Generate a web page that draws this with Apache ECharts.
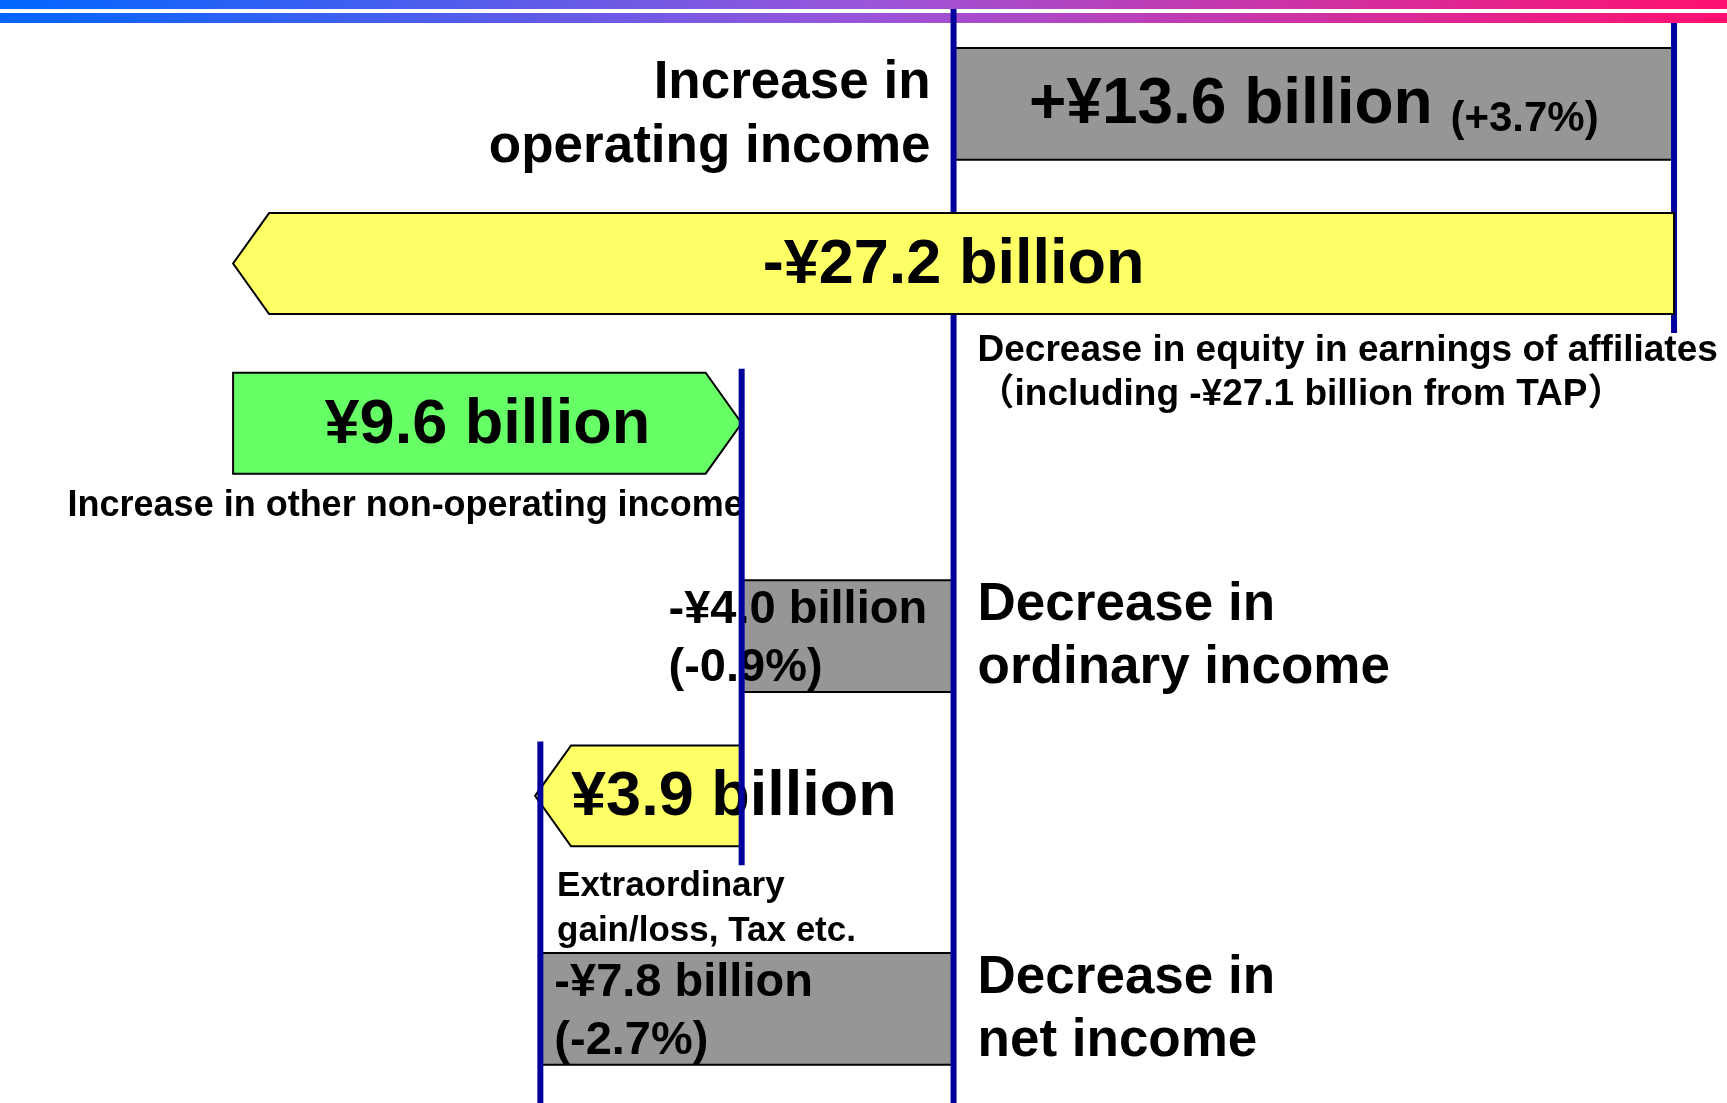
<!DOCTYPE html>
<html>
<head>
<meta charset="utf-8">
<title>Operating / ordinary / net income bridge</title>
<script src="https://cdn.jsdelivr.net/npm/echarts@6/dist/echarts.min.js"></script>
<style>
  html, body { margin: 0; padding: 0; background: #fff; }
  #chart { width: 1727px; height: 1103px; }
</style>
</head>
<body>
<div id="chart"></div>
<script>
  // 項目（上から順）
  const categories = [
    'Increase in operating income',
    'Decrease in equity in earnings of affiliates',
    'Increase in other non-operating income',
    'Decrease in ordinary income',
    'Extraordinary gain/loss, Tax etc.',
    'Decrease in net income'
  ]
  // 増減額（十億円）
  const changes = [13.6, -27.2, 9.6, -4.0, -3.9, -7.8]
  // total: 基準線から描く / step: 前の段の終点から描く
  const kinds = ['total', 'step', 'step', 'total', 'step', 'total']
  const valueLabels = ['+¥13.6 billion', '-¥27.2 billion', '¥9.6 billion', '-¥4.0 billion', '¥3.9 billion', '-¥7.8 billion']
  const pctLabels = ['(+3.7%)', '', '', '(-0.9%)', '', '(-2.7%)']
  const nameLabels = [
    'Increase in\noperating income',
    'Decrease in equity in earnings of affiliates\n（including -¥27.1 billion from TAP）',
    'Increase in other non-operating income',
    'Decrease in\nordinary income',
    'Extraordinary\ngain/loss, Tax etc.',
    'Decrease in\nnet income'
  ]

  // 項目名の置き場所（見た目の設定）
  const namePos = ['leftOfBase', 'belowBase', 'belowEndRight', 'rightOfBase', 'belowEndLeft', 'rightOfBase']

  const FONT = "'Liberation Sans', Arial, Helvetica, 'Noto Sans CJK JP', sans-serif"

  // 段の縦位置：下に項目名がある段のあとは少し間を空ける
  const rowSlot = []
  categories.forEach((c, i) => {
    rowSlot.push(i === 0 ? 0 : rowSlot[i - 1] + 1 + (namePos[i - 1].indexOf('belowEnd') === 0 ? 1 / 3 : 0))
  })

  // [start, end, slot, row]
  const ranges = []
  let run = 0
  changes.forEach((c, i) => {
    const start = kinds[i] === 'total' ? 0 : run
    const end = +(start + c).toFixed(1)
    ranges.push([start, end, rowSlot[i], i])
    run = end
  })

  // 縦の区切り線 [値, 開始slot, 終了slot, 開始段, 終了段]
  const link = (v, a, b) => [v, rowSlot[a], rowSlot[b], a, b]
  const connectors = [
    link(0, 0, 5),
    link(ranges[0][1], 0, 1),
    link(ranges[2][1], 2, 4),
    link(ranges[5][1], 4, 5)
  ]

  // 基準線をまたぐ矢印は線の上に描く
  const crossesBase = r => kinds[r[3]] === 'step' && Math.min(r[0], r[1]) < 0 && Math.max(r[0], r[1]) > 0
  const underRanges = ranges.filter(r => !crossesBase(r))
  const overRanges = ranges.filter(crossesBase)

  const measure = document.createElement('canvas').getContext('2d')
  function textWidth(str, size) {
    measure.font = 'bold ' + size + 'px ' + FONT
    return Math.max(...str.split('\n').map(s => measure.measureText(s).width))
  }

  function txt(text, x, y, size, align, vAlign, lineHeight, rich) {
    return {
      type: 'text',
      z2: 10,
      style: {
        text: text, x: x, y: y, fill: '#000',
        fontSize: size, fontWeight: 'bold', fontFamily: FONT,
        align: align, verticalAlign: vAlign, lineHeight: lineHeight, rich: rich
      }
    }
  }

  function barHalf(row, unit) {
    return unit * (kinds[row] === 'total' ? 0.35 : 0.316)
  }

  function renderBar(params, api) {
    const slot = api.value(2)
    const row = api.value(3)
    const p0 = api.coord([api.value(0), slot])
    const p1 = api.coord([api.value(1), slot])
    const baseX = api.coord([0, slot])[0]
    const unit = api.size([0, 1])[1]
    const cy = p0[1]
    const x0 = p0[0]
    const x1 = p1[0]
    const left = Math.min(x0, x1)
    const right = Math.max(x0, x1)
    const total = kinds[row] === 'total'
    const half = barHalf(row, unit)
    const top = cy - half
    const bottom = cy + half
    const children = []

    if (total) {
      children.push({
        type: 'rect',
        shape: { x: left, y: top, width: right - left, height: half * 2 },
        style: { fill: '#969696', stroke: '#000', lineWidth: 2 }
      })
    } else {
      const tip = 36
      const pts = x1 < x0
        ? [[x1, cy], [x1 + tip, top], [x0, top], [x0, bottom], [x1 + tip, bottom]]
        : [[x0, top], [x1 - tip, top], [x1, cy], [x1 - tip, bottom], [x0, bottom]]
      children.push({
        type: 'polygon',
        shape: { points: pts },
        style: { fill: x1 < x0 ? '#FFFF66' : '#66FF66', stroke: '#000', lineWidth: 2 }
      })
    }

    // 金額
    if (total && changes[row] > 0) {
      children.push(txt(valueLabels[row] + ' {s|' + pctLabels[row] + '}', (left + right) / 2, cy + 2, 64, 'center', 'middle', 70,
        { s: { fontSize: 42, fontWeight: 'bold', fontFamily: FONT, fill: '#000', verticalAlign: 'bottom', padding: [8, 0, 0, 0] } }))
    } else if (total) {
      children.push(txt(valueLabels[row] + '\n' + pctLabels[row], Math.min(left + 14, baseX - 285), cy + 3, 47, 'left', 'middle', 58))
    } else {
      const w = textWidth(valueLabels[row], 63)
      const cx = Math.max((left + right) / 2, left + 36 + w / 2)
      children.push(txt(valueLabels[row], cx, cy + 2, 63, 'center', 'middle', 70))
    }

    // 項目名
    const nm = nameLabels[row]
    switch (namePos[row]) {
      case 'leftOfBase':
        children.push(txt(nm, baseX - 23, cy + 12, 53, 'right', 'middle', 64))
        break
      case 'rightOfBase':
        children.push(txt(nm, baseX + 24, cy + 1, 53, 'left', 'middle', 63))
        break
      case 'belowBase':
        children.push(txt(nm, baseX + 24, bottom + 15, 37, 'left', 'top', 44))
        break
      case 'belowEndRight':
        children.push(txt(nm, x1 + 2, bottom + 10, 36, 'right', 'top', 44))
        break
      case 'belowEndLeft':
        children.push(txt(nm, x1 + 22, bottom + 18, 35, 'left', 'top', 45))
        break
    }
    return { type: 'group', children: children }
  }

  function renderLink(params, api) {
    const v = api.value(0)
    const fromRow = api.value(3)
    const toRow = api.value(4)
    const unit = api.size([0, 1])[1]
    const pFrom = api.coord([v, api.value(1)])
    const pTo = api.coord([v, api.value(2)])
    const x = pFrom[0]
    let y1 = pFrom[1] - barHalf(fromRow, unit) - 4
    if (v === 0) {
      y1 = params.coordSys.y - 15
    } else if (fromRow === 0) {
      y1 = pFrom[1] - barHalf(fromRow, unit) - 25
    }
    const y2 = toRow === categories.length - 1
      ? params.coordSys.y + params.coordSys.height + 200
      : pTo[1] + barHalf(toRow, unit) + 19
    return {
      type: 'line',
      shape: { x1: x, y1: y1, x2: x, y2: y2 },
      style: { stroke: '#00009C', lineWidth: 6 }
    }
  }

  const stripeFill = () => new echarts.graphic.LinearGradient(0, 0, 1, 0, [
    { offset: 0, color: '#0066FF' }, { offset: 0.5, color: '#9A55DA' }, { offset: 1, color: '#FF1070' }])

  const chart = echarts.init(document.getElementById('chart'))
  chart.setOption({
    backgroundColor: '#fff',
    animation: false,
    graphic: [
      { type: 'rect', left: 0, top: 0, z: -1, shape: { width: 1727, height: 9 }, style: { fill: stripeFill() } },
      { type: 'rect', left: 0, top: 13, z: -1, shape: { width: 1727, height: 10 }, style: { fill: stripeFill() } }
    ],
    grid: { left: 0, right: 0, top: 24, bottom: 41 },
    xAxis: {
      type: 'value',
      min: -18,
      max: 14.6,
      show: false
    },
    yAxis: {
      type: 'value',
      inverse: true,
      min: -0.5,
      max: 6,
      show: false
    },
    series: [
      {
        type: 'custom',
        name: 'bars',
        silent: true,
        z: 2,
        renderItem: renderBar,
        encode: { x: [0, 1], y: 2 },
        data: underRanges
      },
      {
        type: 'custom',
        name: 'links',
        silent: true,
        z: 3,
        renderItem: renderLink,
        encode: { x: 0, y: [1, 2] },
        data: connectors
      },
      {
        type: 'custom',
        name: 'bars over base',
        silent: true,
        z: 4,
        renderItem: renderBar,
        encode: { x: [0, 1], y: 2 },
        data: overRanges
      }
    ]
  })
</script>
</body>
</html>
